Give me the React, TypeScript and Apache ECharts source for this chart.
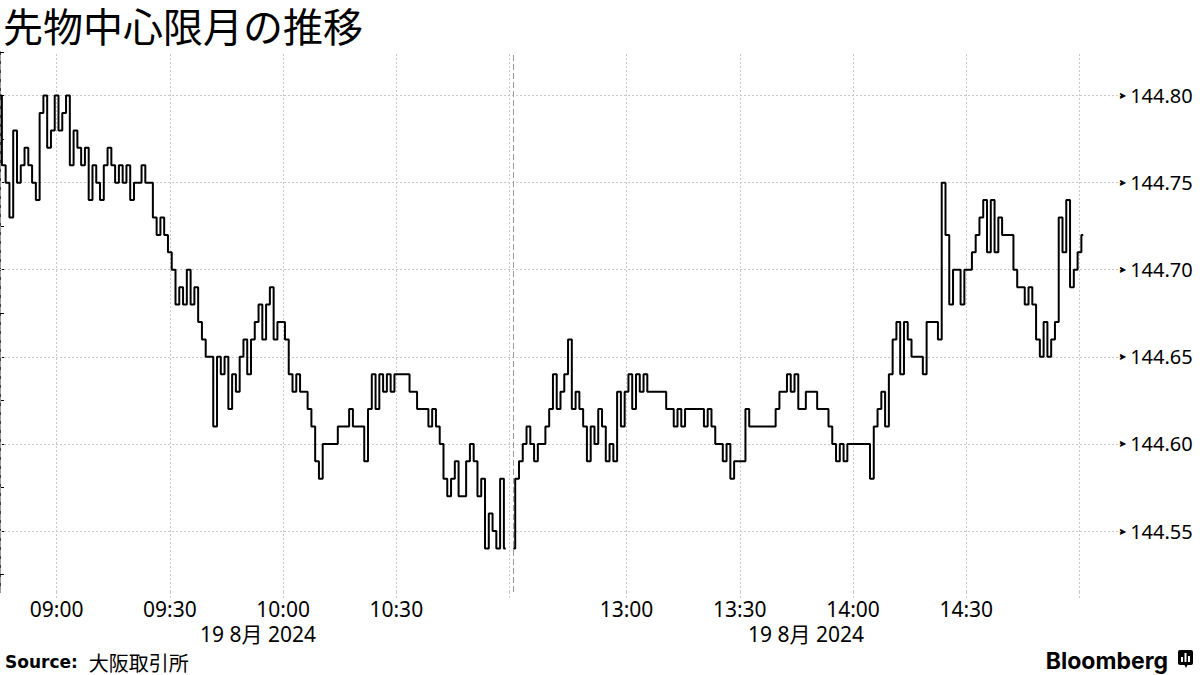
import React, { useEffect, useRef } from 'react';
import * as echarts from 'echarts';

const titleText = '先物中心限月の推移';
const sourceLabel = 'Source:';
const sourceName = '大阪取引所';
const dateLabel = '19 8月 2024';
const brandText = 'Bloomberg';

// minutes from 08:45 (morning) ; afternoon session (12:30-) starts at position 136
const morningStart = 0;
const afternoonStart = 136;

const morningPrices = [
  144.80, 144.76, 144.75, 144.73, 144.78, 144.75, 144.76, 144.77, 144.76, 144.75,
  144.74, 144.79, 144.80, 144.77, 144.78, 144.80, 144.78, 144.79, 144.80, 144.76,
  144.78, 144.77, 144.76, 144.77, 144.74, 144.76, 144.75, 144.74, 144.76, 144.77,
  144.76, 144.75, 144.76, 144.75, 144.76, 144.74, 144.75, 144.75, 144.76, 144.75,
  144.75, 144.73, 144.72, 144.73, 144.72, 144.71, 144.70, 144.68, 144.69, 144.68,
  144.70, 144.68, 144.69, 144.67, 144.66, 144.65, 144.65, 144.61, 144.65, 144.64,
  144.65, 144.62, 144.64, 144.63, 144.65, 144.66, 144.64, 144.66, 144.67, 144.68,
  144.66, 144.68, 144.69, 144.66, 144.67, 144.67, 144.66, 144.64, 144.63, 144.64,
  144.63, 144.63, 144.62, 144.61, 144.59, 144.58, 144.60, 144.60, 144.60, 144.60,
  144.61, 144.61, 144.61, 144.62, 144.61, 144.61, 144.61, 144.59, 144.62, 144.64,
  144.62, 144.64, 144.63, 144.64, 144.63, 144.64, 144.64, 144.64, 144.64, 144.63,
  144.63, 144.62, 144.62, 144.62, 144.61, 144.62, 144.61, 144.60, 144.58, 144.57,
  144.58, 144.59, 144.57, 144.57, 144.59, 144.60, 144.59, 144.57, 144.58, 144.54,
  144.56, 144.55, 144.54, 144.58, 144.54,
];

const afternoonPrices = [
  144.54, 144.58, 144.59, 144.60, 144.61, 144.60, 144.59, 144.60, 144.60, 144.61,
  144.62, 144.64, 144.62, 144.63, 144.64, 144.66, 144.62, 144.63, 144.62, 144.61,
  144.59, 144.61, 144.60, 144.62, 144.61, 144.59, 144.60, 144.59, 144.63, 144.61,
  144.63, 144.64, 144.62, 144.64, 144.63, 144.64, 144.63, 144.63, 144.63, 144.63,
  144.63, 144.62, 144.62, 144.61, 144.62, 144.61, 144.62, 144.62, 144.62, 144.62,
  144.62, 144.61, 144.62, 144.61, 144.60, 144.60, 144.59, 144.60, 144.58, 144.59,
  144.59, 144.59, 144.62, 144.61, 144.61, 144.61, 144.61, 144.61, 144.61, 144.61,
  144.62, 144.63, 144.63, 144.64, 144.63, 144.64, 144.62, 144.62, 144.63, 144.63,
  144.63, 144.62, 144.62, 144.62, 144.61, 144.60, 144.59, 144.60, 144.59, 144.60,
  144.60, 144.60, 144.60, 144.60, 144.60, 144.58, 144.61, 144.62, 144.63, 144.61,
  144.64, 144.66, 144.67, 144.64, 144.67, 144.66, 144.65, 144.65, 144.65, 144.64,
  144.67, 144.67, 144.67, 144.66, 144.75, 144.72, 144.68, 144.70, 144.70, 144.68,
  144.70, 144.70, 144.71, 144.72, 144.73, 144.74, 144.71, 144.74, 144.71, 144.73,
  144.72, 144.72, 144.72, 144.70, 144.69, 144.69, 144.68, 144.69, 144.68, 144.66,
  144.65, 144.67, 144.65, 144.66, 144.67, 144.73, 144.71, 144.74, 144.69, 144.70,
  144.71, 144.72,
];

const xTickPositions = [15, 45, 75, 105, 166, 196, 226, 256];
const xTickLabels = ['09:00', '09:30', '10:00', '10:30', '13:00', '13:30', '14:00', '14:30'];
const xGridPositions = [15, 45, 75, 105, 135, 166, 196, 226, 256, 286];
const sessionBreaks = [0.15, 136];
const yLabelValues = [144.55, 144.6, 144.65, 144.7, 144.75, 144.8];
const yTickValues = [
  144.525, 144.55, 144.575, 144.6, 144.625, 144.65, 144.675, 144.7, 144.725, 144.75, 144.775, 144.8, 144.825,
];
const yMin = 144.515;
const yMax = 144.825;
const xMin = 0;
const xMax = 297;

const FONT = '"Noto Sans", "Noto Sans CJK JP", sans-serif';

export default function App() {
  const ref = useRef<HTMLDivElement>(null);

  useEffect(() => {
    if (!ref.current) return;
    const chart = echarts.init(ref.current, undefined, { renderer: 'svg' });

    const morningData = morningPrices.map((v, i) => [morningStart + i, v]);
    const afternoonData = afternoonPrices.map((v, i) => [afternoonStart + i, v]);

    const gridStyle = { color: '#c9c9c9', type: [2, 2] as any, width: 1 };
    const breakStyle = { color: '#9a9a9a', type: [6, 3] as any, width: 1 };

    const markLineData: any[] = [
      ...yLabelValues.map((v) => ({ yAxis: v, lineStyle: gridStyle })),
      ...xGridPositions.map((v) => ({ xAxis: v, lineStyle: gridStyle })),
      ...sessionBreaks.map((v) => ({ xAxis: v, lineStyle: breakStyle })),
    ];

    const labelMap = new Map<number, string>();
    xTickPositions.forEach((p, i) => labelMap.set(p, xTickLabels[i]));

    const lineStyle = { color: '#000', width: 2 };

    chart.setOption({
      animation: false,
      backgroundColor: '#fff',
      grid: {
        left: 0,
        right: 79,
        top: 52,
        bottom: 83,
        containLabel: false,
        outerBoundsMode: 'none',
      },
      xAxis: {
        type: 'value',
        min: xMin,
        max: xMax,
        axisLine: { show: false },
        splitLine: { show: false },
        axisTick: {
          show: true,
          customValues: xGridPositions,
          length: 6,
          lineStyle: { color: '#c9c9c9', type: [2, 2], width: 1 },
        },
        axisLabel: {
          show: true,
          customValues: xTickPositions,
          margin: 6,
          fontSize: 21,
          color: '#000',
          fontFamily: FONT,
          formatter: (v: number) => labelMap.get(Math.round(v)) ?? '',
        },
      },
      yAxis: {
        type: 'value',
        position: 'right',
        min: yMin,
        max: yMax,
        scale: true,
        axisLine: { show: true, lineStyle: { color: '#000', width: 1.5 } },
        splitLine: { show: false },
        axisTick: {
          show: true,
          customValues: yTickValues,
          length: 4,
          inside: false,
          lineStyle: { color: '#000', width: 1 },
        },
        axisLabel: {
          show: true,
          customValues: yLabelValues,
          margin: -1,
          color: '#000',
          formatter: (v: number) => '{t|▶}{v|' + v.toFixed(2) + '}',
          rich: {
            t: { fontSize: 8, fontFamily: 'DejaVu Sans', color: '#000' },
            v: { fontSize: 20, fontFamily: FONT, color: '#000', padding: [0, 0, 0, 4] },
          },
        },
      },
      series: [
        {
          type: 'line',
          data: morningData,
          showSymbol: false,
          symbol: 'none',
          step: 'middle',
          lineStyle,
          z: 3,
          markLine: {
            silent: true,
            symbol: ['none', 'none'],
            label: { show: false },
            animation: false,
            z: 1,
            data: markLineData,
          },
        },
        {
          type: 'line',
          data: afternoonData,
          showSymbol: false,
          symbol: 'none',
          step: 'middle',
          lineStyle,
          z: 3,
        },
      ],
      graphic: [
        {
          type: 'text',
          x: 3,
          y: 25,
          style: {
            text: titleText,
            fontSize: 40,
            fontFamily: '"Noto Sans CJK JP", sans-serif',
            fill: '#000',
            verticalAlign: 'middle',
          },
        },
        {
          type: 'text',
          x: 258,
          y: 634,
          style: {
            text: dateLabel,
            fontSize: 21,
            fontFamily: FONT,
            fill: '#000',
            align: 'center',
            verticalAlign: 'middle',
          },
        },
        {
          type: 'text',
          x: 806,
          y: 634,
          style: {
            text: dateLabel,
            fontSize: 21,
            fontFamily: FONT,
            fill: '#000',
            align: 'center',
            verticalAlign: 'middle',
          },
        },
        {
          type: 'text',
          x: 5,
          y: 662,
          style: {
            text: '{b|' + sourceLabel + '}{n|' + sourceName + '}',
            verticalAlign: 'middle',
            rich: {
              b: { fontSize: 17, fontFamily: 'DejaVu Sans', fontWeight: 'bold', fill: '#000' },
              n: {
                fontSize: 20,
                fontFamily: '"Noto Sans CJK JP", sans-serif',
                fill: '#000',
                padding: [0, 0, 0, 11],
              },
            },
          },
        },
        {
          type: 'text',
          x: 1168,
          y: 661,
          style: {
            text: brandText,
            fontSize: 23,
            fontWeight: 'bold',
            fontFamily: 'Inter, "Noto Sans", sans-serif',
            fill: '#000',
            align: 'right',
            verticalAlign: 'middle',
          },
        },
        {
          type: 'group',
          x: 1178,
          y: 650,
          children: [
            { type: 'rect', shape: { x: 0, y: 0, width: 15, height: 15, r: 2 }, style: { fill: '#000' } },
            { type: 'polygon', shape: { points: [[6, 14], [10, 14], [8, 18]] }, style: { fill: '#000' } },
            { type: 'rect', shape: { x: 3, y: 7, width: 2, height: 5 }, style: { fill: '#fff' } },
            { type: 'rect', shape: { x: 6.5, y: 3, width: 2, height: 9 }, style: { fill: '#fff' } },
            { type: 'rect', shape: { x: 10, y: 6, width: 2, height: 6 }, style: { fill: '#fff' } },
          ],
        },
      ],
    });

    return () => chart.dispose();
  }, []);

  return (
    <div
      ref={ref}
      style={{ position: 'absolute', left: 0, top: 0, width: 1200, height: 675, background: '#fff' }}
    />
  );
}
